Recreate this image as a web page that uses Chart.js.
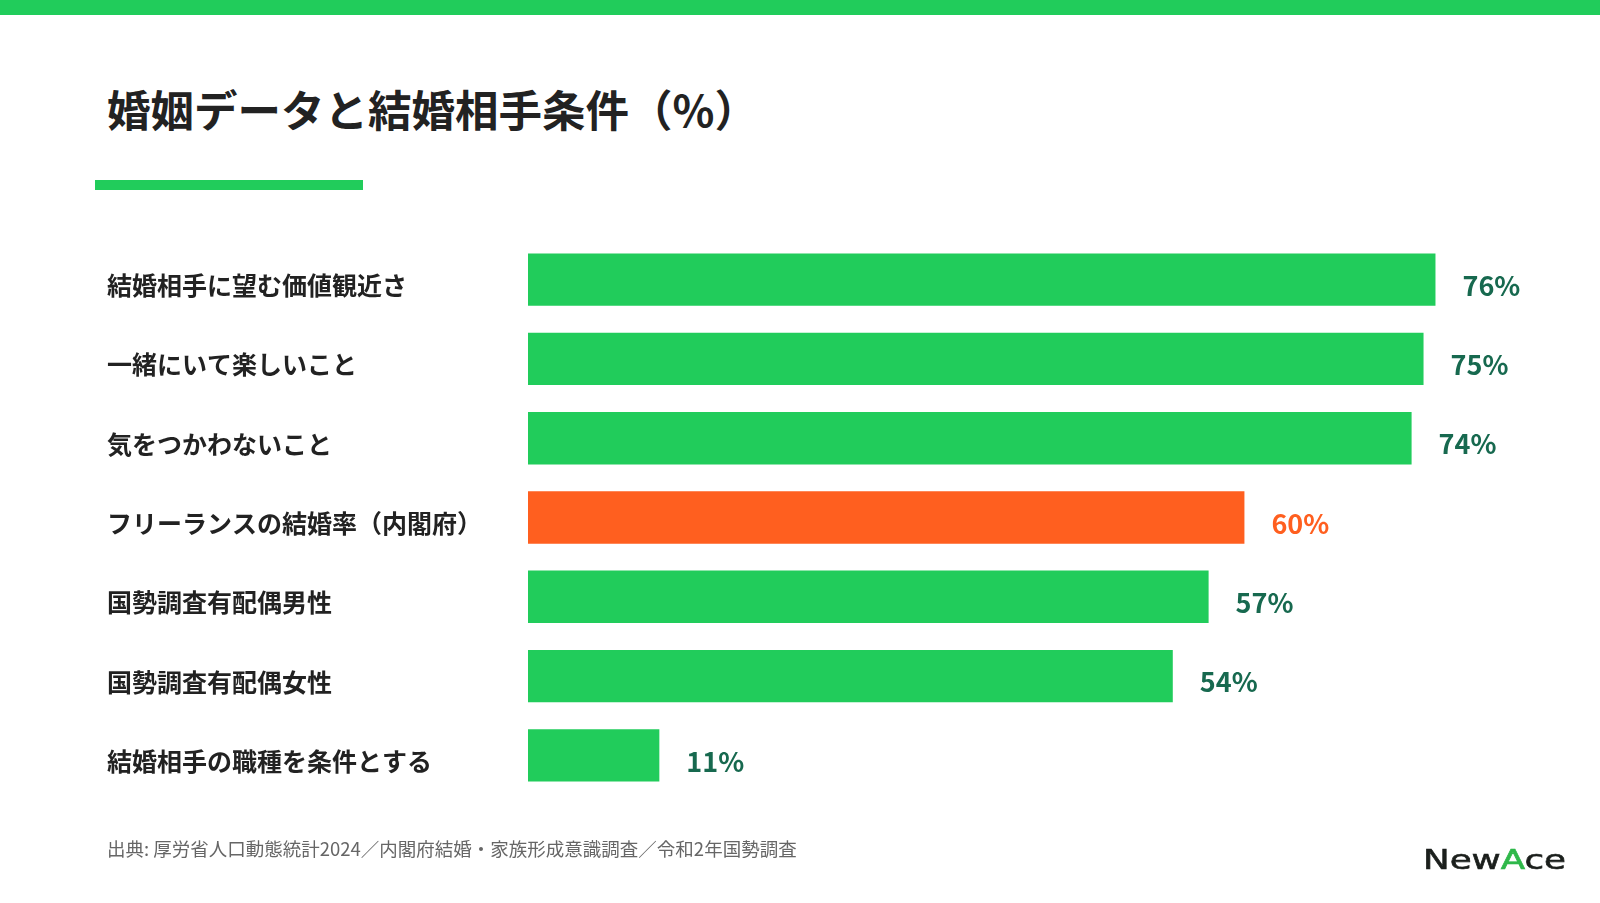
<!DOCTYPE html>
<html lang="ja">
<head>
<meta charset="utf-8">
<title>婚姻データと結婚相手条件（%）</title>
<script src="https://cdn.jsdelivr.net/npm/chart.js@4/dist/chart.umd.min.js"></script>
<style>
  html, body { margin: 0; padding: 0; background: #fff; }
  body { width: 1600px; height: 903px; position: relative; overflow: hidden;
         font-family: "Noto Sans CJK JP", "Noto Sans", sans-serif; }
  .topbar { position: absolute; left: 0; top: 0; width: 1600px; height: 15px; background: #21cc5b; }
  .title { position: absolute; left: 107px; top: 87px; margin: 0; font-size: 43.5px; line-height: 44px;
           font-weight: 700; color: #222; }
  .accent { position: absolute; left: 95px; top: 180px; width: 268px; height: 10px; background: #21cc5b; }
  .chart-box { position: absolute; left: 0; top: 0; width: 1600px; height: 903px; }
  .source { position: absolute; left: 107px; top: 837px; font-size: 18.5px; line-height: 22px; color: #666; }
  .logo { position: absolute; left: 1423px; top: 843px; font-family: "DejaVu Sans", sans-serif;
          font-size: 27px; line-height: 34px; color: #1b1f1c; transform: scaleX(1.32); transform-origin: left center;
          -webkit-text-stroke: 0.6px #1b1f1c; }
  .logo .a { color: #2fb84a; -webkit-text-stroke: 0.6px #2fb84a; }
</style>
</head>
<body>
<div class="topbar"></div>
<h1 class="title">婚姻データと結婚相手条件（%）</h1>
<div class="accent"></div>
<div class="chart-box"><canvas id="marriageChart"></canvas></div>
<div class="source">出典: 厚労省人口動態統計2024／内閣府結婚・家族形成意識調査／令和2年国勢調査</div>
<div class="logo">New<span class="a">A</span>ce</div>

<script>
// data
const categories = [
  '結婚相手に望む価値観近さ',
  '一緒にいて楽しいこと',
  '気をつかわないこと',
  'フリーランスの結婚率（内閣府）',
  '国勢調査有配偶男性',
  '国勢調査有配偶女性',
  '結婚相手の職種を条件とする'
];
const percentValues = [76, 75, 74, 60, 57, 54, 11];
const highlightIndex = [3];   // 内閣府 bar in orange

const GREEN = '#21cc5b';
const ORANGE = '#ff5f1f';
const VALUE_GREEN = '#17694f';

const barColors = categories.map((_, i) => highlightIndex.includes(i) ? ORANGE : GREEN);

// Value labels to the right of each bar
const valueLabels = {
  id: 'valueLabels',
  afterDatasetsDraw(chart) {
    const { ctx } = chart;
    const meta = chart.getDatasetMeta(0);
    ctx.save();
    ctx.font = 'bold 27px "Noto Sans CJK JP", sans-serif';
    ctx.textAlign = 'left';
    ctx.textBaseline = 'middle';
    meta.data.forEach((bar, i) => {
      ctx.fillStyle = highlightIndex.includes(i) ? ORANGE : VALUE_GREEN;
      ctx.fillText(percentValues[i] + '%', bar.x + 27, bar.y + 6);
    });
    ctx.restore();
  }
};

const ctx = document.getElementById('marriageChart').getContext('2d');
new Chart(ctx, {
  type: 'bar',
  data: {
    labels: categories,
    datasets: [{
      data: percentValues,
      backgroundColor: barColors,
      borderWidth: 0,
      categoryPercentage: 1,
      barPercentage: 0.66
    }]
  },
  options: {
    indexAxis: 'y',
    responsive: true,
    maintainAspectRatio: false,
    animation: false,
    layout: { padding: { left: 107, right: 69, top: 240, bottom: 108 } },
    plugins: {
      legend: { display: false },
      tooltip: { enabled: false }
    },
    scales: {
      x: {
        display: false,
        min: 0,
        max: 84
      },
      y: {
        grid: { display: false },
        border: { display: false },
        ticks: {
          crossAlign: 'far',
          labelOffset: 6,
          color: '#222',
          font: { family: '"Noto Sans CJK JP", sans-serif', size: 25, weight: 'bold' }
        },
        afterFit(scale) { scale.width = 421; }
      }
    }
  },
  plugins: [valueLabels]
});
</script>
</body>
</html>
